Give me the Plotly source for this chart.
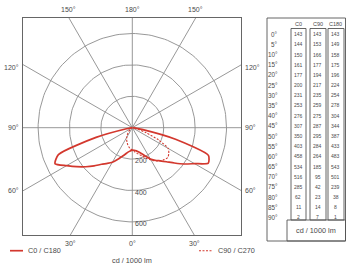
import math
import plotly.graph_objects as go

# ---------------- data ----------------
gamma = [0, 5, 10, 15, 20, 25, 30, 35, 40, 45, 50, 55, 60, 65, 70, 75, 80, 85, 90]
c0 = [143, 144, 150, 161, 177, 200, 231, 253, 276, 307, 350, 403, 458, 534, 516, 285, 62, 11, 2]
c90 = [143, 153, 166, 177, 194, 217, 235, 259, 275, 287, 295, 284, 264, 185, 95, 42, 23, 14, 7]
c180 = [143, 149, 158, 175, 196, 224, 254, 278, 304, 344, 387, 433, 483, 543, 501, 239, 38, 8, 1]
# C270 half-plane, estimated from the drawn dashed curve (not tabulated)
c270 = [143, 135, 125, 112, 98, 85, 70, 55, 42, 30, 20, 13, 8, 5, 3, 2, 1, 1, 0]

ring_values = [200, 400, 600]
ray_angles = [0, 30, 60, 90, 120, 150, 180]
unit_label = "cd / 1000 lm"
legend_labels = ["C0 / C180", "C90 / C270"]
table_headers = ["C0", "C90", "C180"]

# ---------------- geometry ----------------
W, H = 347, 265
BOX_L, BOX_R, BOX_T, BOX_B = 23, 241, 18, 235
CX, CY = 132.3, 127.7
S = 0.157  # px per cd

xr = [-(CX - BOX_L) / S, (BOX_R - CX) / S]
yr = [-(BOX_B - CY) / S, (CY - BOX_T) / S]

RED = "#d3382e"
GRID = "#8c8c8c"
TXT = "#4a4a4a"
FONT = "Liberation Sans, Arial, sans-serif"


def px(x):
    return x / W


def py(y):
    return 1 - y / H


def half(vals, sign):
    xs = [sign * v * math.sin(math.radians(g)) for g, v in zip(gamma, vals)]
    ys = [-v * math.cos(math.radians(g)) for g, v in zip(gamma, vals)]
    return xs, ys


fig = go.Figure()

# grid rays
big = 5000
for a in ray_angles:
    for sgn in ([1] if a in (0, 180) else [-1, 1]):
        fig.add_trace(go.Scatter(
            x=[0, sgn * big * math.sin(math.radians(a))],
            y=[0, -big * math.cos(math.radians(a))],
            mode="lines", line=dict(color=GRID, width=0.9),
            hoverinfo="skip", showlegend=False))

# grid rings
for r in ring_values:
    t = [i * 2 * math.pi / 180 for i in range(181)]
    fig.add_trace(go.Scatter(
        x=[r * math.cos(v) for v in t], y=[r * math.sin(v) for v in t],
        mode="lines", line=dict(color=GRID, width=0.9),
        hoverinfo="skip", showlegend=False))

# C0 / C180 (C180 left, C0 right)
lx, ly = half(c180, -1)
rx, ry = half(c0, 1)
fig.add_trace(go.Scatter(
    x=lx[::-1] + rx, y=ly[::-1] + ry, mode="lines",
    line=dict(color=RED, width=1.7, shape="spline", smoothing=0.6),
    hoverinfo="skip", showlegend=False))

# C90 / C270 (C270 left, C90 right)
lx, ly = half(c270, -1)
rx, ry = half(c90, 1)
fig.add_trace(go.Scatter(
    x=lx[::-1] + rx, y=ly[::-1] + ry, mode="lines",
    line=dict(color=RED, width=1.1, dash="2px,1.5px", shape="spline", smoothing=0.6),
    hoverinfo="skip", showlegend=False))

ann = []
# ring labels
for r in ring_values:
    ann.append(dict(x=6, y=-r - 12, xref="x", yref="y", text=str(r), showarrow=False,
                    xanchor="left", yanchor="middle", font=dict(size=7, color=TXT, family=FONT)))

# angle labels at box edges
for a in ray_angles:
    for sgn in ([1] if a in (0, 180) else [-1, 1]):
        dx = sgn * math.sin(math.radians(a))
        dy = -math.cos(math.radians(a))
        ts = []
        if abs(dx) > 1e-9:
            ts.append(((xr[1] if dx > 0 else xr[0]) / dx, "side"))
        if abs(dy) > 1e-9:
            ts.append(((yr[1] if dy > 0 else yr[0]) / dy, "tb"))
        t, edge = min(ts)
        x, y = t * dx, t * dy
        d = dict(x=x, y=y, xref="x", yref="y", text=f"{a}°", showarrow=False,
                 font=dict(size=7, color=TXT, family=FONT))
        if edge == "side":
            if dx < 0:
                d.update(xanchor="right", yanchor="middle", xshift=-2)
            else:
                d.update(xanchor="left", yanchor="middle", xshift=2)
            if dy > 0:
                d.update(yshift=-3)
        else:
            if dy > 0:
                d.update(xanchor="center", yanchor="middle", yshift=8)
            else:
                d.update(xanchor="center", yanchor="middle", yshift=-8)
        ann.append(d)

# legend & unit under chart
shapes = []
shapes.append(dict(type="line", xref="paper", yref="paper", x0=px(10), x1=px(23),
                   y0=py(250.7), y1=py(250.7), line=dict(color=RED, width=1.7)))
ann.append(dict(x=px(26), y=py(250.7), xref="paper", yref="paper", text=legend_labels[0],
                showarrow=False, xanchor="left", yanchor="middle", font=dict(size=7.3, color=TXT, family=FONT)))
shapes.append(dict(type="line", xref="paper", yref="paper", x0=px(199), x1=px(213),
                   y0=py(250.7), y1=py(250.7), line=dict(color=RED, width=1.1, dash="2px,1.5px")))
ann.append(dict(x=px(216), y=py(250.7), xref="paper", yref="paper", text=legend_labels[1],
                showarrow=False, xanchor="left", yanchor="middle", font=dict(size=7.3, color=TXT, family=FONT)))
ann.append(dict(x=px(132), y=py(260), xref="paper", yref="paper", text=unit_label,
                showarrow=False, xanchor="center", yanchor="middle", font=dict(size=7.3, color=TXT, family=FONT)))

# ---------------- table ----------------
TL = "#555555"
def rect(x0, y0, x1, y1):
    shapes.append(dict(type="rect", xref="paper", yref="paper", x0=px(x0), x1=px(x1),
                       y0=py(y1), y1=py(y0), line=dict(color=TL, width=0.9)))

rect(267, 18, 345.5, 241)
col_boxes = [(291, 306), (310, 326), (328, 344)]
col_cx = [298.3, 317.7, 335.7]
for (a, b) in col_boxes:
    rect(a, 28.5, b, 220)
rect(287, 220, 345.5, 241)

for h, cx in zip(table_headers, col_cx):
    ann.append(dict(x=px(cx), y=py(24), xref="paper", yref="paper", text=h, showarrow=False,
                    xanchor="center", yanchor="middle", font=dict(size=5.5, color=TXT, family=FONT)))

row_y0, row_dy = 34.3, 10.17
for i, g in enumerate(gamma):
    yy = row_y0 + i * row_dy
    ann.append(dict(x=px(280), y=py(yy), xref="paper", yref="paper", text=f"{g}°", showarrow=False,
                    xanchor="right", yanchor="middle", font=dict(size=6.3, color=TXT, family=FONT)))
    for vals, cx in zip([c0, c90, c180], col_cx):
        ann.append(dict(x=px(cx), y=py(yy), xref="paper", yref="paper", text=str(vals[i]),
                        showarrow=False, xanchor="center", yanchor="middle",
                        font=dict(size=5, color=TXT, family=FONT)))
ann.append(dict(x=px(316), y=py(230), xref="paper", yref="paper", text=unit_label, showarrow=False,
                xanchor="center", yanchor="middle", font=dict(size=7.3, color=TXT, family=FONT)))

axis_common = dict(showgrid=False, zeroline=False, showticklabels=False, ticks="",
                   showline=True, mirror=True, linecolor="#666666", linewidth=1, fixedrange=True)
fig.update_layout(
    template="none",
    width=W, height=H, margin=dict(l=0, r=0, t=0, b=0),
    paper_bgcolor="white", plot_bgcolor="white", showlegend=False,
    xaxis=dict(range=xr, domain=[px(BOX_L), px(BOX_R)], **axis_common),
    yaxis=dict(range=yr, domain=[py(BOX_B), py(BOX_T)], **axis_common),
    annotations=ann, shapes=shapes,
)

fig.write_html("out.html")
